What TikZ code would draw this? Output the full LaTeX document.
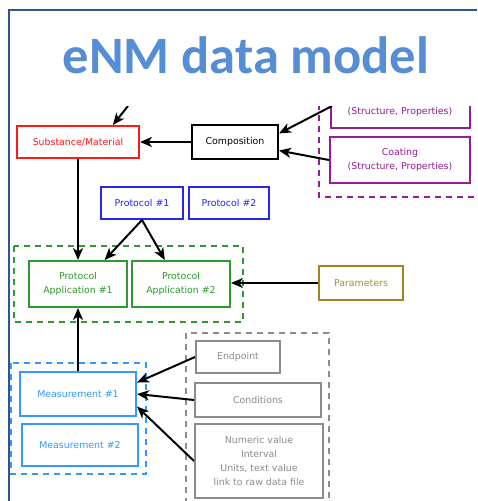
\documentclass[tikz,border=0pt]{standalone}
\usepackage{fontspec}
\setmainfont{DejaVu Sans}
\newfontfamily\titlefont{Carlito}
\usetikzlibrary{arrows.meta}

\definecolor{framec}{HTML}{2E5591}
\definecolor{titlec}{HTML}{558ED5}
\definecolor{redc}{HTML}{FF1A1A}
\definecolor{purplec}{HTML}{921E92}
\definecolor{protoc}{HTML}{2525F5}
\definecolor{greenc}{HTML}{2F9A2F}
\definecolor{paramc}{HTML}{A5821F}
\definecolor{paramt}{HTML}{A88B3D}
\definecolor{measc}{HTML}{3399FF}
\definecolor{grayc}{HTML}{8C8C8C}

\tikzset{
  box/.style={draw, line width=2pt, inner sep=0pt, align=center,
    font=\fontsize{9.4}{13.8}\selectfont},
  group/.style={draw, line width=2pt, dash pattern=on 6pt off 5pt},
  arr/.style={draw=black, line width=2pt,
    -{Stealth[length=12pt,width=10pt,inset=3.5pt]}},
}

\begin{document}
\begin{tikzpicture}[x=1pt,y=-1pt]
\useasboundingbox (0,0) rectangle (477,501);
\fill[white] (0,0) rectangle (477,501);

% title
\node[anchor=base, text=titlec, font=\titlefont\bfseries\fontsize{52.5}{60}\selectfont, inner sep=0pt]
  (title) at (246,73) {eNM data model};

\begin{scope}
\clip (10,106) rectangle (477,501);

% dashed groups
\draw[group, purplec] (319,60) rectangle (495,197);
\draw[group, greenc]  (14,246) rectangle (243,322);
\draw[group, measc]   (11,363) rectangle (146,474);
\draw[group, grayc]   (186,333) rectangle (329,520);

% material branch
\node[box, draw=redc, text=redc, minimum width=122pt, minimum height=32pt]
  (sub) at (78,142) {Substance/Material};
\node[box, draw=black, text=black, minimum width=86pt, minimum height=34pt]
  (comp) at (235,142) {Composition};
\draw[line width=2pt, purplec] (331,80) rectangle (470,128);
\node[text=purplec, font=\fontsize{9.4}{13.8}\selectfont, inner sep=0pt]
  (core) at (400,112) {(Structure, Properties)};
\node[box, draw=purplec, text=purplec, minimum width=140pt, minimum height=46pt]
  (coat) at (400,160) {Coating\\(Structure, Properties)};

% protocols
\node[box, draw=protoc, text=protoc, minimum width=82pt, minimum height=32pt]
  (p1) at (142,203) {Protocol \#1};
\node[box, draw=protoc, text=protoc, minimum width=80pt, minimum height=32pt]
  (p2) at (229,203) {Protocol \#2};
\node[box, draw=greenc, text=greenc, minimum width=98pt, minimum height=46pt]
  (pa1) at (78,284) {Protocol\\Application \#1};
\node[box, draw=greenc, text=greenc, minimum width=98pt, minimum height=46pt]
  (pa2) at (181,284) {Protocol\\Application \#2};
\node[box, draw=paramc, text=paramt, minimum width=84pt, minimum height=34pt]
  (param) at (361,283) {Parameters};

% measurements
\node[box, draw=measc, text=measc, minimum width=116pt, minimum height=44pt]
  (m1) at (78,394) {Measurement \#1};
\node[box, draw=measc, text=measc, minimum width=116pt, minimum height=42pt]
  (m2) at (80,445) {Measurement \#2};
\node[box, draw=grayc, text=grayc, minimum width=84pt, minimum height=32pt]
  (ep) at (238,357) {Endpoint};
\node[box, draw=grayc, text=grayc, minimum width=126pt, minimum height=34pt]
  (cond) at (258,400) {Conditions};
\node[box, draw=grayc, text=grayc, minimum width=128pt, minimum height=74pt]
  (vals) at (259,461) {Numeric value\\Interval\\Units, text value\\link to raw data file};

% connectors
\coordinate (insub) at (128,106);
\coordinate (incore) at (332,106);
\draw[arr] (insub) -- (sub.26);
\draw[arr] (comp.west) -- (comp.west -| sub.east);
\draw[arr] (incore) -- (comp.11);
\draw[arr] (coat.west) -- (comp.-11);
\draw[arr] (sub.south) -- (pa1.north);
\draw[arr] (p1.south) -- (pa1.42);
\draw[arr] (p1.south) -- (pa2.124);
\draw[arr] (param.west) -- (param.west -| pa2.east);
\draw[arr] (m1.north) -- (m1.north |- pa1.south);
\draw[arr] (ep.west) -- (m1.11);
\draw[arr] (cond.west) -- (m1.east);
\draw[arr] (vals.west) -- (m1.-12);
\end{scope}

% slide frame
\draw[framec, line width=2pt] (9,501) -- (9,10) -- (477,10);
\end{tikzpicture}
\end{document}
